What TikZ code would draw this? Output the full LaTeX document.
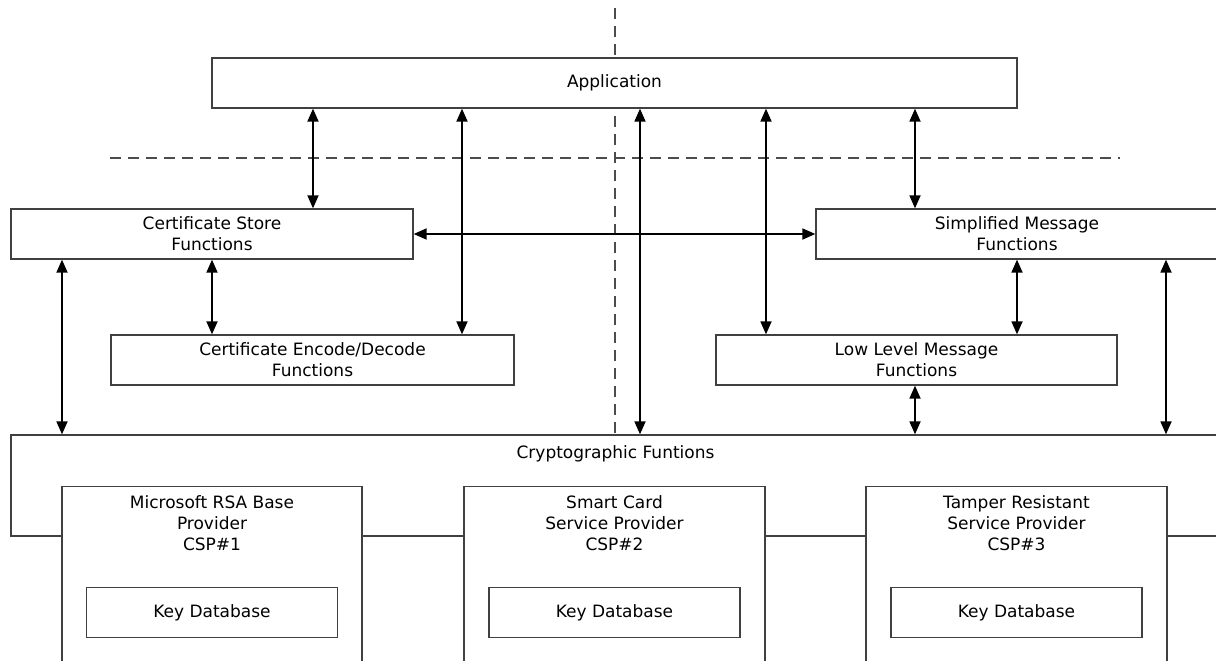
\documentclass[tikz,border=0pt]{standalone}
\usepackage{fontspec}
\setmainfont{DejaVu Sans}
\usepackage{tikz}
\usetikzlibrary{arrows.meta, positioning, calc}
\tikzset{
    box/.style={draw=black!75, fill=white, line width=1.3pt, minimum height=50pt, inner sep=0pt, align=center},
    boxtext/.style={inner sep=0pt, align=center},
    dbl/.style={{Triangle[length=13pt,width=11pt]}-{Triangle[length=13pt,width=11pt]}, line width=1.8pt},
    divider/.style={draw=black!70, line width=1.6pt, dash pattern=on 11pt off 7pt}
}
\begin{document}
\begin{tikzpicture}[x=1pt, y=-1pt, font=\fontsize{17}{21}\selectfont]
    \useasboundingbox (0,0) rectangle (1216,661);
    \clip (0,0) rectangle (1216,661);
    \draw[divider] (615,8) -- (615,435);
    \draw[divider] (110,158) -- (1120,158);

    \node[box, minimum width=805pt] (app) at (614.5,83) {Application};
    \node[box, minimum width=402pt] (cstore) at (212,234) {Certificate Store\\Functions};
    \node[box, minimum width=402pt] (smsg) at (1017,234) {Simplified Message\\Functions};
    \node[box, minimum width=403pt] (cenc) at (312.5,360) {Certificate Encode/Decode\\Functions};
    \node[box, minimum width=401pt] (llmsg) at (916.5,360) {Low Level Message\\Functions};

    \node[box, minimum width=1209pt, minimum height=101pt] (crypto) at (615.5,485.5) {};
    \node[boxtext, anchor=base] (cryptotxt) at ($(crypto.north)+(0,24)$) {Cryptographic Funtions};

    \node[box, minimum width=300pt, minimum height=220pt, anchor=north] (csp1) at (212,486) {};
    \node[box, minimum width=301pt, minimum height=220pt, anchor=north] (csp2) at (614.5,486) {};
    \node[box, minimum width=301pt, minimum height=220pt, anchor=north] (csp3) at (1016.5,486) {};
    \node[boxtext, below=9pt of csp1.north] (csp1txt) {Microsoft RSA Base\\Provider\\CSP\#1};
    \node[boxtext, below=9pt of csp2.north] (csp2txt) {Smart Card\\Service Provider\\CSP\#2};
    \node[boxtext, below=9pt of csp3.north] (csp3txt) {Tamper Resistant\\Service Provider\\CSP\#3};
    \node[box, minimum width=251pt, below=101pt of csp1.north] (key1) {Key Database};
    \node[box, minimum width=251pt, below=101pt of csp2.north] (key2) {Key Database};
    \node[box, minimum width=251pt, below=101pt of csp3.north] (key3) {Key Database};

    \draw[dbl] (app.south -| 313,0) -- (cstore.north -| 313,0);
    \draw[dbl] (app.south -| 462,0) -- (cenc.north -| 462,0);
    \draw[dbl] (app.south -| 640,0) -- (crypto.north -| 640,0);
    \draw[dbl] (app.south -| 766,0) -- (llmsg.north -| 766,0);
    \draw[dbl] (app.south -| 915,0) -- (smsg.north -| 915,0);
    \draw[dbl] (cstore.east) -- (smsg.west);
    \draw[dbl] (cstore.south -| 62,0) -- (crypto.north -| 62,0);
    \draw[dbl] (cstore.south) -- (cenc.north -| cstore.south);
    \draw[dbl] (smsg.south) -- (llmsg.north -| smsg.south);
    \draw[dbl] (llmsg.south -| 915,0) -- (crypto.north -| 915,0);
    \draw[dbl] (smsg.south -| 1166,0) -- (crypto.north -| 1166,0);
\end{tikzpicture}
\end{document}
